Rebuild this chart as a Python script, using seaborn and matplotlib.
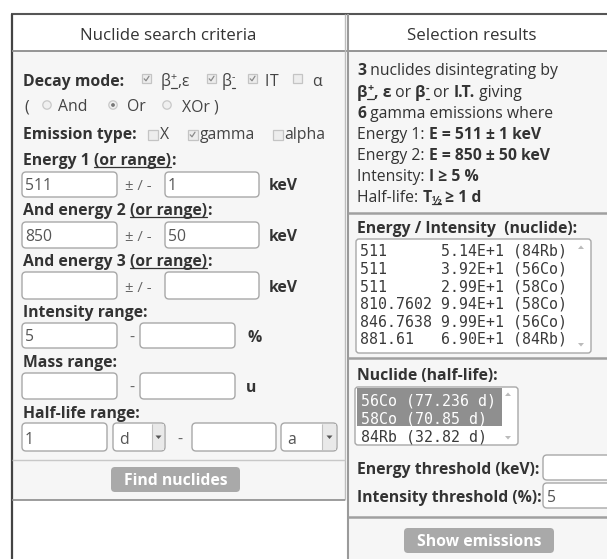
import matplotlib
matplotlib.use("Agg")
import matplotlib.pyplot as plt
import seaborn as sns
from matplotlib.patches import FancyBboxPatch, Rectangle, Circle, Polygon

# ---------------- data ----------------
decay_mode_labels = ["β⁺,ε", "β⁻", "IT", "α"]
decay_mode_checked = [True, True, True, False]
combine_labels = ["And", "Or", "XOr )"]
combine_selected = [False, True, False]
emission_labels = ["X", "gamma", "alpha"]
emission_checked = [False, True, False]
energy1 = ["511", "1"]
energy2 = ["850", "50"]
energy3 = ["", ""]
intensity_range = ["5", ""]
mass_range = ["", ""]
half_life_range = ["1", "d", "", "a"]

n_nuclides = "3"
n_emissions = "6"
list_energy = ["511", "511", "511", "810.7602", "846.7638", "881.61"]
list_intensity = ["5.14E+1", "3.92E+1", "2.99E+1", "9.94E+1", "9.99E+1", "6.90E+1"]
list_nuclide = ["84Rb", "56Co", "58Co", "58Co", "56Co", "84Rb"]
hl_nuclide = ["56Co", "58Co", "84Rb"]
hl_value = ["77.236 d", "70.85 d", "32.82 d"]
hl_selected = [True, True, False]
energy_threshold = ""
intensity_threshold = "5"

# ---------------- setup ----------------
sns.set_theme(style="white")
FAM = ["Open Sans", "DejaVu Sans"]
MONO = ["DejaVu Sans Mono"]
plt.rcParams["font.family"] = FAM
FS = 11.3
MFS = 10.7
PX = 100 / 72.0
TXT = "#333333"
VAL = "#555555"

fig = plt.figure(figsize=(6.07, 5.59), dpi=100)
fig.patch.set_facecolor("white")
ax = fig.add_axes([0, 0, 1, 1])
ax.set_xlim(0, 607)
ax.set_ylim(559, 0)
ax.axis("off")
R = fig.canvas.get_renderer()


def measure(s, fs, weight="normal", family=FAM):
    def w(txt):
        t = ax.text(0, 0, txt, fontsize=fs, fontweight=weight, family=family)
        v = t.get_window_extent(renderer=R).width
        t.remove()
        return v
    return w("|" + s + "|") - w("||")


def run(x, y, parts, size=FS, color=TXT, family=FAM):
    for txt, st in parts:
        fs = size
        dy = 0
        weight = "bold" if "b" in st else "normal"
        if "sup" in st:
            fs = size * 0.68
            dy = -size * PX * 0.40
        if "sub" in st:
            fs = size * 0.72
            dy = size * PX * 0.10
        ax.text(x, y + dy, txt, fontsize=fs, fontweight=weight, color=color,
                family=family, ha="left", va="baseline")
        wd = measure(txt, fs, weight, family)
        if "u" in st:
            ax.plot([x, x + wd], [y + 2.2, y + 2.2], color=color, lw=0.9)
        x += wd
    return x


def parse_sup(label):
    parts = []
    for ch in label:
        if ch == "⁺":
            parts.append(("+", "sup"))
        elif ch == "⁻":
            parts.append(("-", "sup"))
        else:
            parts.append((ch, "n"))
    return parts


def hline(y, x0, x1, c="#999999", lw=1.2):
    ax.plot([x0, x1], [y, y], color=c, lw=lw, solid_capstyle="butt")


def vline(x, y0, y1, c="#999999", lw=1.2):
    ax.plot([x, x], [y0, y1], color=c, lw=lw, solid_capstyle="butt")


def box(x0, y0, x1, y1, fc="white", ec="#a8a8a8", r=4, lw=1.0):
    ax.add_patch(FancyBboxPatch((x0, y0), x1 - x0, y1 - y0,
                                boxstyle=f"round,pad=0,rounding_size={r}",
                                fc=fc, ec=ec, lw=lw))


def input_box(x0, y0, x1, y1, value):
    box(x0, y0, x1, y1)
    if value:
        ax.text(x0 + 3, y1 - 7, value, fontsize=FS, color=VAL, va="baseline", ha="left")


def checkbox(x0, y0, checked, s=9):
    ax.add_patch(Rectangle((x0, y0), s, s, fc="#ededed", ec="#c4c4c4", lw=0.9))
    if checked:
        ax.plot([x0 + 2.2, x0 + 4, x0 + 7], [y0 + 4.8, y0 + 6.8, y0 + 2.2],
                color="#8a8a8a", lw=0.9)


def radio(cx, cy, sel):
    ax.add_patch(Circle((cx, cy), 4.2, fc="#f0f0f0", ec="#c8c8c8", lw=0.9))
    if sel:
        ax.add_patch(Circle((cx, cy), 1.9, fc="#777777", ec="none"))


def dropdown(x0, y0, x1, y1, xa, value):
    box(x0, y0, x1, y1)
    ax.add_patch(Rectangle((xa, y0 + 1), x1 - xa - 1.5, y1 - y0 - 2, fc="#e9e9e9", ec="none"))
    vline(xa, y0 + 1, y1 - 1, c="#c0c0c0", lw=0.8)
    cx = (xa + x1) / 2
    cy = (y0 + y1) / 2
    ax.add_patch(Polygon([[cx - 3, cy - 1.5], [cx + 3, cy - 1.5], [cx, cy + 2]], fc="#555555", ec="none"))
    ax.text(x0 + 6, y1 - 7, value, fontsize=FS, color=VAL, va="baseline", ha="left")


def button(x0, y0, x1, y1, label):
    box(x0, y0, x1, y1, fc="#a9a9a9", ec="none", r=4)
    ax.text((x0 + x1) / 2, (y0 + y1) / 2 + 5.5, label, fontsize=FS, fontweight="bold",
            color="white", ha="center", va="baseline")


# ---------------- backgrounds & frame ----------------
ax.add_patch(Rectangle((12, 51), 333, 449, fc="#f6f6f6", ec="none"))
ax.add_patch(Rectangle((347, 51), 260, 508, fc="#f6f6f6", ec="none"))
hline(14, 11, 607, c="#555555", lw=1.5)
vline(12, 14, 559, c="#444444", lw=1.6)
hline(51, 12, 607, c="#8c8c8c", lw=1.3)
vline(345, 14, 500, c="#bdbdbd", lw=1.0)
vline(347.5, 14, 559, c="#9a9a9a", lw=1.5)
hline(460, 12, 345, c="#c8c8c8", lw=1.0)
hline(500, 12, 345, c="#8c8c8c", lw=1.2)
hline(213, 348, 607, c="#a0a0a0", lw=1.8)
hline(358, 348, 607, c="#a0a0a0", lw=1.8)
hline(517, 348, 607, c="#a0a0a0", lw=1.8)

ax.text(168, 40, "Nuclide search criteria", fontsize=12.2, color=TXT, ha="center", va="baseline")
ax.text(472, 40, "Selection results", fontsize=12.2, color=TXT, ha="center", va="baseline")

# ---------------- left panel ----------------
run(23, 86, [("Decay mode:", "b")])
cb_x = [142, 207, 248, 293]
lab_x = [161, 222, 265, 312]
for lab, chk, cx, lx in zip(decay_mode_labels, decay_mode_checked, cb_x, lab_x):
    checkbox(cx, 74, chk)
    run(lx, 86, parse_sup(lab), color="#444444")

ax.text(24, 111, "(", fontsize=FS, color="#444444", va="baseline")
r_x = [47, 113, 167]
rl_x = [58, 127, 182]
for lab, sel, rx, lx in zip(combine_labels, combine_selected, r_x, rl_x):
    radio(rx, 105, sel)
    ax.text(lx, 111, lab, fontsize=FS, color="#444444", va="baseline")

run(23, 139, [("Emission type:", "b")])
e_x = [148, 188, 273]
el_x = [160, 200, 284]
for lab, chk, cx, lx in zip(emission_labels, emission_checked, e_x, el_x):
    checkbox(cx, 130, chk, s=10)
    ax.text(lx, 139, lab, fontsize=FS, color="#444444", va="baseline")

PM = "± / -"
run(23, 165, [("Energy 1 ", "b"), ("(or range)", "bu"), (":", "b")])
input_box(22, 172, 117, 197, energy1[0])
ax.text(125, 190, PM, fontsize=FS * 0.95, color="#666666", va="baseline")
input_box(165, 172, 259, 197, energy1[1])
run(269, 190, [("keV", "b")])

run(23, 215, [("And energy 2 ", "b"), ("(or range)", "bu"), (":", "b")])
input_box(22, 222, 117, 248, energy2[0])
ax.text(125, 241, PM, fontsize=FS * 0.95, color="#666666", va="baseline")
input_box(165, 222, 259, 248, energy2[1])
run(269, 241, [("keV", "b")])

run(23, 266, [("And energy 3 ", "b"), ("(or range)", "bu"), (":", "b")])
input_box(22, 272, 117, 299, energy3[0])
ax.text(125, 292, PM, fontsize=FS * 0.95, color="#666666", va="baseline")
input_box(165, 272, 259, 299, energy3[1])
run(269, 292, [("keV", "b")])

run(23, 317, [("Intensity range:", "b")])
input_box(22, 323, 117, 348, intensity_range[0])
ax.text(129, 342, "-", fontsize=FS, color="#666666", va="baseline")
input_box(140, 323, 235, 348, intensity_range[1])
run(247, 342, [("%", "b")])

run(23, 367, [("Mass range:", "b")])
input_box(22, 373, 117, 399, mass_range[0])
ax.text(129, 392, "-", fontsize=FS, color="#666666", va="baseline")
input_box(140, 373, 235, 399, mass_range[1])
run(246, 392, [("u", "b")])

run(23, 418, [("Half-life range:", "b")])
input_box(22, 423, 107, 451, half_life_range[0])
dropdown(113, 423, 165, 451, 152, half_life_range[1])
ax.text(177, 444, "-", fontsize=FS, color="#666666", va="baseline")
input_box(192, 423, 276, 451, half_life_range[2])
dropdown(281, 423, 337, 451, 322, half_life_range[3])

button(111, 467, 240, 492, "Find nuclides")

# ---------------- right panel ----------------
RX = 357
run(RX, 75, [(n_nuclides, "b"), (" nuclides disintegrating by", "n")])
run(RX, 97, [("β", "b"), ("+", "bsup"), (", ε", "b"), (" or ", "n"), ("β", "b"),
             ("-", "bsup"), (" or ", "n"), ("I.T.", "b"), (" giving", "n")])
run(RX, 118, [(n_emissions, "b"), (" gamma emissions where", "n")])
run(RX, 139, [("Energy 1: ", "n"), (f"E = {energy1[0]} ± {energy1[1]} keV", "b")])
run(RX, 160, [("Energy 2: ", "n"), (f"E = {energy2[0]} ± {energy2[1]} keV", "b")])
run(RX, 181, [("Intensity: ", "n"), (f"I ≥ {intensity_range[0]} %", "b")])
run(RX, 202, [("Half-life: ", "n"), ("T", "b"), ("½", "bsub"), (f" ≥ {half_life_range[0]} {half_life_range[1]}", "b")])

run(RX, 233, [("Energy / Intensity  (nuclide):", "b")])
box(356, 239, 591, 353, r=3)
for i, (e, it, nu) in enumerate(zip(list_energy, list_intensity, list_nuclide)):
    ax.text(360, 256 + i * 17.6, f"{e:<9}{it} ({nu})", fontsize=MFS, family=MONO,
            color="#3a3a3a", va="baseline", ha="left")
ax.add_patch(Polygon([[578, 249], [584, 249], [581, 245.5]], fc="#bbbbbb", ec="none"))
ax.add_patch(Polygon([[578, 343], [584, 343], [581, 346.5]], fc="#bbbbbb", ec="none"))

run(RX, 380, [("Nuclide (half-life):", "b")])
box(355, 387, 518, 445, r=3)
for i, (nu, hv, sel) in enumerate(zip(hl_nuclide, hl_value, hl_selected)):
    y0 = 388 + i * 19
    if sel:
        ax.add_patch(Rectangle((357, y0), 145, 19, fc="#8f8f8f", ec="none"))
    ax.text(361, 406 + i * 17.6, f"{nu} ({hv})", fontsize=MFS, family=MONO,
            color="white" if sel else "#3a3a3a", va="baseline", ha="left")
ax.add_patch(Polygon([[505, 396], [511, 396], [508, 392.5]], fc="#bbbbbb", ec="none"))
ax.add_patch(Polygon([[505, 436], [511, 436], [508, 439.5]], fc="#bbbbbb", ec="none"))

run(RX, 474, [("Energy threshold (keV):", "b")])
box(543, 455, 615, 480)
if energy_threshold:
    ax.text(547, 474, energy_threshold, fontsize=FS, color=VAL, va="baseline")
run(RX, 502, [("Intensity threshold (%):", "b")])
box(543, 483, 615, 508)
ax.text(547, 502, intensity_threshold, fontsize=FS, color=VAL, va="baseline")

button(404, 528, 554, 553, "Show emissions")

fig.savefig("out.png", dpi=100)
